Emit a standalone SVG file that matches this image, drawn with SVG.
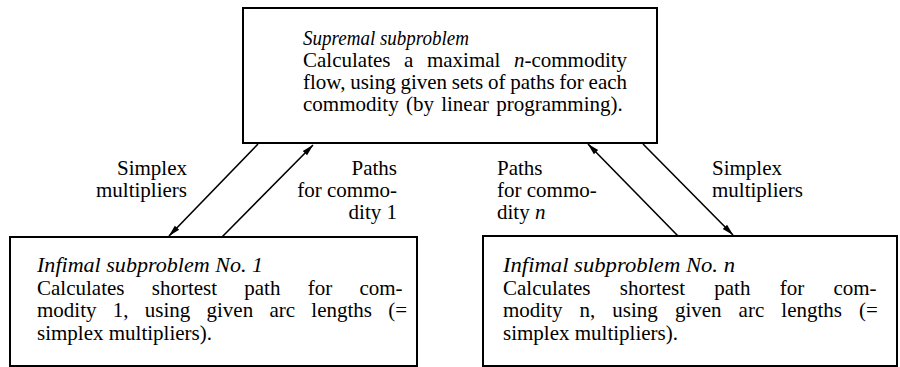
<svg xmlns="http://www.w3.org/2000/svg" width="900" height="367" viewBox="0 0 900 367">
<defs>
<style>
.box{fill:#fff;stroke:#000;stroke-width:2}
.t{font-family:"Liberation Serif","Times New Roman",serif;font-size:21px;fill:#000}
.i{font-style:italic}
.e{text-anchor:end}
.c{stroke:#000;stroke-width:1.6;fill:none}
</style>
<marker id="ah" viewBox="0 0 12 8" refX="11.5" refY="4" markerWidth="12" markerHeight="8" markerUnits="userSpaceOnUse" orient="auto">
<path d="M0,1 L12,4 L0,7 Z" fill="#000"/>
</marker>
</defs>
<rect width="900" height="367" fill="#fff"/>
<g id="supremal">
<rect class="box" x="243" y="8" width="414" height="135"/>
<text class="t i" x="303" y="45" textLength="166" lengthAdjust="spacingAndGlyphs">Supremal subproblem</text>
<text class="t" x="303" y="67" style="word-spacing:8.3px">Calculates a maximal <tspan class="i">n</tspan>-commodity</text>
<text class="t" x="303" y="89" style="word-spacing:-0.5px">flow, using given sets of paths for each</text>
<text class="t" x="303" y="111" style="word-spacing:2px">commodity (by linear programming).</text>
</g>
<g id="infimal1">
<rect class="box" x="10" y="237" width="407" height="129"/>
<text class="t i" x="37" y="272" textLength="226" lengthAdjust="spacingAndGlyphs">Infimal subproblem No. 1</text>
<text class="t" x="37" y="295" style="word-spacing:22px">Calculates shortest path for com-</text>
<text class="t" x="37" y="317" style="word-spacing:11px">modity 1, using given arc lengths (=</text>
<text class="t" x="37" y="340">simplex multipliers).</text>
</g>
<g id="infimaln">
<rect class="box" x="483" y="236" width="414" height="130"/>
<text class="t i" x="503" y="272" textLength="232" lengthAdjust="spacingAndGlyphs">Infimal subproblem No. n</text>
<text class="t" x="503" y="295" style="word-spacing:24px">Calculates shortest path for com-</text>
<text class="t" x="503" y="317" style="word-spacing:11.8px">modity n, using given arc lengths (=</text>
<text class="t" x="503" y="340">simplex multipliers).</text>
</g>
<g id="connectors">
<line class="c" x1="258" y1="144" x2="169" y2="236" marker-end="url(#ah)"/>
<line class="c" x1="222" y1="237" x2="313" y2="145" marker-end="url(#ah)"/>
<line class="c" x1="678" y1="236" x2="588" y2="144" marker-end="url(#ah)"/>
<line class="c" x1="643" y1="144" x2="733" y2="235" marker-end="url(#ah)"/>
</g>
<g id="labels">
<text class="t e" x="187" y="175">Simplex</text>
<text class="t e" x="187" y="197">multipliers</text>
<text class="t e" x="397" y="175">Paths</text>
<text class="t e" x="397" y="197">for commo-</text>
<text class="t e" x="397" y="219">dity 1</text>
<text class="t" x="497" y="175">Paths</text>
<text class="t" x="497" y="197">for commo-</text>
<text class="t" x="497" y="219">dity <tspan class="i">n</tspan></text>
<text class="t" x="712" y="175">Simplex</text>
<text class="t" x="712" y="197">multipliers</text>
</g>
</svg>
